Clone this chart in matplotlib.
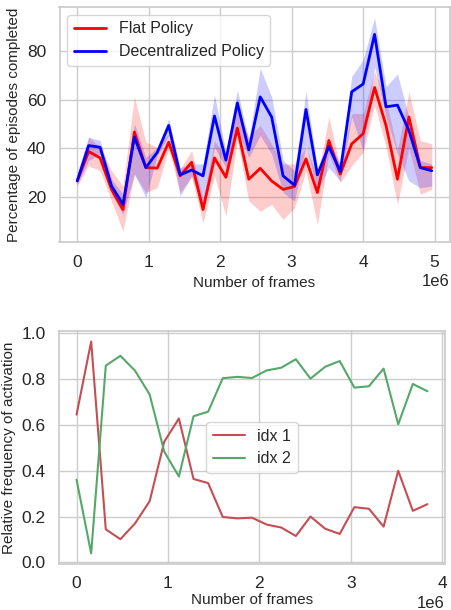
import numpy as np
import matplotlib
matplotlib.use("Agg")
import matplotlib.pyplot as plt
import seaborn as sns

# data atas: persentase episode selesai
frames_top = np.arange(32) * 160000
flat_mean = [26.5, 38.7, 36.0, 23.0, 14.7, 46.7, 32.0, 31.8, 42.5, 28.6, 34.2, 14.7,
             36.0, 28.0, 48.3, 27.2, 31.7, 26.5, 23.0, 24.2, 35.6, 21.7, 43.2, 29.3,
             41.8, 46.0, 65.1, 49.4, 27.2, 52.9, 32.0, 32.0]
flat_hi = [30.0, 44.6, 40.4, 30.7, 24.4, 61.2, 42.5, 40.4, 46.0, 31.4, 39.0, 19.0,
           43.2, 36.2, 55.7, 44.6, 49.4, 41.8, 33.5, 33.5, 40.4, 28.0, 52.9, 32.0,
           54.3, 54.3, 71.7, 59.9, 39.0, 63.3, 43.2, 41.8]
flat_lo = [24.5, 32.8, 30.7, 18.2, 5.7, 29.3, 21.7, 23.7, 39.7, 21.7, 28.0, 9.2,
           28.6, 12.0, 43.2, 18.2, 14.0, 16.8, 10.6, 15.4, 30.7, 8.5, 37.6, 25.8,
           32.8, 38.3, 57.8, 40.4, 16.8, 40.4, 21.0, 23.0]
dec_mean = [26.5, 41.1, 40.4, 24.4, 16.8, 44.6, 32.0, 38.3, 49.4, 29.0, 31.0, 28.6,
            53.3, 35.1, 58.7, 39.3, 61.2, 52.9, 28.6, 24.7, 56.0, 29.0, 40.7, 30.4,
            63.3, 66.5, 87.0, 57.1, 57.8, 47.4, 32.0, 30.7]
dec_hi = [28.6, 44.6, 43.2, 27.2, 21.0, 50.1, 36.2, 40.4, 52.2, 32.0, 33.5, 33.5,
          62.0, 38.3, 64.0, 43.2, 73.0, 61.2, 34.9, 30.7, 63.3, 32.0, 43.2, 33.5,
          69.6, 76.5, 93.9, 65.4, 70.7, 52.9, 34.9, 33.5]
dec_lo = [25.0, 34.9, 37.6, 21.0, 12.6, 29.3, 19.6, 37.0, 45.3, 20.3, 28.6, 15.4,
          40.4, 32.0, 47.4, 36.2, 45.3, 37.6, 21.7, 18.2, 41.1, 22.4, 32.0, 26.5,
          52.9, 39.0, 73.7, 52.9, 37.6, 26.5, 23.7, 24.4]

# data bawah: frekuensi relatif aktivasi
frames_bot = np.arange(25) * 160000
idx1 = [0.645, 0.964, 0.144, 0.101, 0.170, 0.267, 0.527, 0.628, 0.364, 0.346, 0.198,
        0.192, 0.195, 0.165, 0.152, 0.115, 0.200, 0.147, 0.124, 0.241, 0.234, 0.156,
        0.400, 0.225, 0.254]
idx2 = [0.361, 0.039, 0.859, 0.902, 0.837, 0.733, 0.483, 0.375, 0.638, 0.658, 0.804,
        0.810, 0.805, 0.838, 0.850, 0.887, 0.802, 0.854, 0.879, 0.763, 0.769, 0.846,
        0.603, 0.779, 0.747]

sns.set_theme(style="whitegrid")
plt.rcParams['font.family'] = ['Liberation Sans', 'DejaVu Sans']
plt.rcParams['font.size'] = 11

fig = plt.figure(figsize=(4.52, 6.10), dpi=100)
ax1 = fig.add_axes([59.5 / 452, 1 - 242 / 610, 390 / 452, 235 / 610])
ax2 = fig.add_axes([59 / 452, 1 - 564 / 610, 386 / 452, 233 / 610])

ax1.plot(frames_top, flat_mean, color='red', lw=2, label='Flat Policy')
ax1.fill_between(frames_top, flat_lo, flat_hi, color='red', alpha=0.2, lw=0)
ax1.plot(frames_top, dec_mean, color='blue', lw=2, label='Decentralized Policy')
ax1.fill_between(frames_top, dec_lo, dec_hi, color='blue', alpha=0.2, lw=0)
ax1.set_xlabel('Number of frames', fontsize=11)
ax1.set_ylabel('Percentage of episodes completed', fontsize=11)
ax1.set_yticks([20, 40, 60, 80])
ax1.tick_params(labelsize=12.5)
ax1.xaxis.get_offset_text().set_fontsize(12)
ax1.legend(loc='upper left', fontsize=11.5)

ax2.plot(frames_bot, idx1, color='r', lw=1.5, label='idx 1')
ax2.plot(frames_bot, idx2, color='g', lw=1.5, label='idx 2')
ax2.set_xlabel('Number of frames', fontsize=11, labelpad=1)
ax2.set_ylabel('Relative frequency of activation', fontsize=11)
ax2.tick_params(axis='x', labelsize=12.5, pad=3)
ax2.tick_params(axis='y', labelsize=12.5)
ax2.xaxis.get_offset_text().set_fontsize(12)
ax2.legend(loc='center', fontsize=11.5)

fig.savefig('out.png', dpi=100)
